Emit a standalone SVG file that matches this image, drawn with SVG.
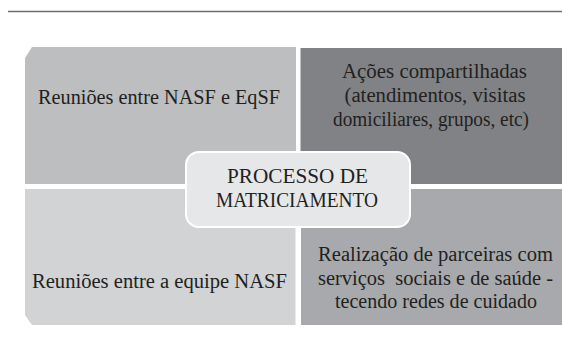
<svg xmlns="http://www.w3.org/2000/svg" width="562" height="347" viewBox="0 0 562 347">
<style>
.t{font-family:"Liberation Serif","Times New Roman",serif;font-size:20px;fill:#231f20;text-anchor:middle}
</style>
<rect width="562" height="347" fill="#ffffff"/>
<line x1="8" y1="11.5" x2="562" y2="11.5" stroke="#6d6e71" stroke-width="1.5"/>
<g id="q1">
<path d="M32,47 H296 V184 H25 V58 Z" fill="#bcbec0"/>
<text class="t" x="159" y="104" textLength="242" lengthAdjust="spacingAndGlyphs">Reuniões entre NASF e EqSF</text>
</g>
<g id="q2">
<rect x="300.5" y="48" width="262" height="136" fill="#808285"/>
<text class="t" x="434.5" y="78" textLength="185" lengthAdjust="spacingAndGlyphs">Ações compartilhadas</text>
<text class="t" x="435" y="102" textLength="181" lengthAdjust="spacingAndGlyphs">(atendimentos, visitas</text>
<text class="t" x="431" y="126" textLength="196" lengthAdjust="spacingAndGlyphs">domiciliares, grupos, etc)</text>
</g>
<g id="q3">
<path d="M25,189 H295.5 V325 H32 L25,315 Z" fill="#d1d3d4"/>
<text class="t" x="159.5" y="288" textLength="255" lengthAdjust="spacingAndGlyphs">Reuniões entre a equipe NASF</text>
</g>
<g id="q4">
<rect x="301" y="189" width="261" height="136" fill="#a7a9ac"/>
<text class="t" x="435.5" y="261" textLength="235" lengthAdjust="spacingAndGlyphs">Realização de parceiras com</text>
<text class="t" x="435.5" y="285" textLength="235" lengthAdjust="spacingAndGlyphs" xml:space="preserve">serviços  sociais e de saúde -</text>
<text class="t" x="436" y="308" textLength="202" lengthAdjust="spacingAndGlyphs">tecendo redes de cuidado</text>
</g>
<g id="center">
<rect x="186" y="152" width="224" height="75" rx="13" ry="13" fill="#e6e7e8" stroke="#ffffff" stroke-width="2"/>
<text class="t" x="297.5" y="183" textLength="141" lengthAdjust="spacingAndGlyphs">PROCESSO DE</text>
<text class="t" x="297" y="207" textLength="162" lengthAdjust="spacingAndGlyphs">MATRICIAMENTO</text>
</g>
<g id="connectors"></g>
</svg>
